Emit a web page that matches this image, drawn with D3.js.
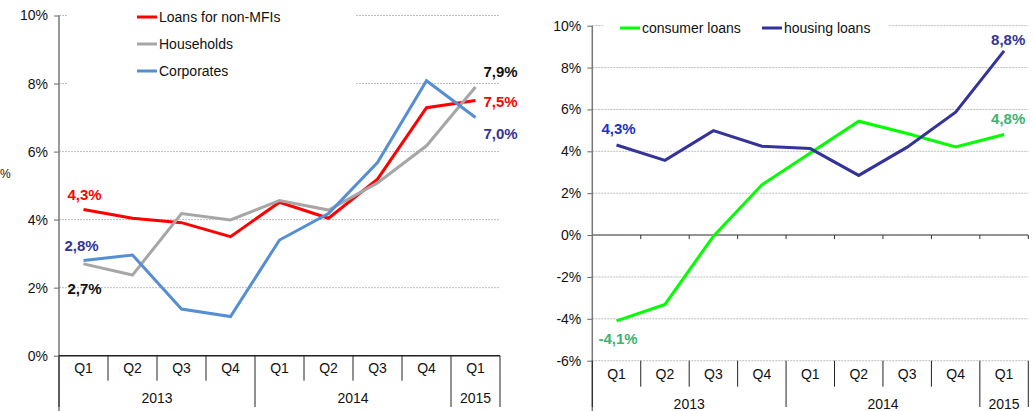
<html>
<head>
<meta charset="utf-8">
<title>Loans growth</title>
<script src="https://cdn.jsdelivr.net/npm/d3@7"></script>
<style>
  body { margin: 0; background: #fff; }
  text { font-family: "Liberation Sans", Arial, sans-serif; }
</style>
</head>
<body>
<script>
    var quarters = ["Q1", "Q2", "Q3", "Q4", "Q1", "Q2", "Q3", "Q4", "Q1"];
    var years = ["2013", "2014", "2015"];
    var yearCounts = [4, 4, 1];

    // left panel
    var loansNonMFI = [4.3, 4.04, 3.91, 3.5, 4.51, 4.04, 5.19, 7.29, 7.5];
    var households = [2.7, 2.37, 4.18, 3.99, 4.56, 4.28, 5.08, 6.17, 7.9];
    var corporates = [2.8, 2.96, 1.37, 1.15, 3.4, 4.18, 5.68, 8.08, 7.0];
    var leftTicks = [0, 2, 4, 6, 8, 10];

    // right panel
    var consumerLoans = [-4.1, -3.31, -0.05, 2.4, 3.92, 5.44, 4.85, 4.21, 4.8];
    var housingLoans = [4.3, 3.57, 4.99, 4.24, 4.13, 2.85, 4.2, 5.87, 8.8];
    var rightTicks = [-6, -4, -2, 0, 2, 4, 6, 8, 10];

    var width = 1034, height = 411;
    var svg = d3.select("body").append("svg")
        .attr("width", width)
        .attr("height", height);

    var idx = d3.range(quarters.length);
    var f1 = d3.format(".1f");
    function fmt(v) { return f1(v).replace("\u2212", "-").replace(".", ",") + "%"; }

    function panel(opt)
    {
        var g = svg.append("g");
        var x = d3.scaleBand().domain(idx).range([opt.x0, opt.x1]).padding(0);
        var y = d3.scaleLinear().domain(opt.domain).range([opt.yBottom, opt.yTop]);

        // gridlines
        g.selectAll(".grid").data(opt.ticks).enter().append("line")
            .attr("x1", opt.x0).attr("x2", opt.x1)
            .attr("y1", function(d){ return y(d); })
            .attr("y2", function(d){ return y(d); })
            .attr("stroke", "#bdbdbd")
            .attr("stroke-width", 1)
            .attr("stroke-dasharray", "2,1");

        // legend background
        g.append("rect")
            .attr("x", opt.legendBox[0]).attr("y", opt.legendBox[1])
            .attr("width", opt.legendBox[2]).attr("height", opt.legendBox[3])
            .attr("fill", "#fff");

        // y axis
        var yAxis = d3.axisLeft(y).tickValues(opt.ticks)
            .tickSize(5).tickPadding(6)
            .tickFormat(function(d){ return d + "%"; });
        var ya = g.append("g").attr("transform", "translate(" + opt.x0 + ",0)").call(yAxis);
        ya.select(".domain").remove();
        ya.selectAll("line").attr("stroke", "#666");
        ya.selectAll("text").attr("font-size", "14px").attr("fill", "#111")
            .style("font-family", "'Liberation Sans', Arial, sans-serif");
        g.append("line")
            .attr("x1", opt.x0).attr("x2", opt.x0)
            .attr("y1", opt.yTop).attr("y2", height)
            .attr("stroke", "#777").attr("stroke-width", 1.5);

        // zero line
        g.append("line")
            .attr("x1", opt.x0).attr("x2", opt.x1)
            .attr("y1", y(0)).attr("y2", y(0))
            .attr("stroke", opt.zeroColor).attr("stroke-width", 1.5);
        if (opt.zeroTicks) {
            g.selectAll(".zt").data(d3.range(1, quarters.length + 1)).enter().append("line")
                .attr("x1", function(d){ return opt.x0 + d * x.bandwidth(); })
                .attr("x2", function(d){ return opt.x0 + d * x.bandwidth(); })
                .attr("y1", y(0)).attr("y2", y(0) + 4)
                .attr("stroke", "#333");
        }

        // category separators
        var base = y(opt.domain[0]);
        var yearStarts = [0];
        yearCounts.reduce(function(a, c){ yearStarts.push(a + c); return a + c; }, 0);
        g.selectAll(".sep").data(d3.range(0, quarters.length + 1)).enter().append("line")
            .attr("x1", function(d){ return opt.x0 + d * x.bandwidth(); })
            .attr("x2", function(d){ return opt.x0 + d * x.bandwidth(); })
            .attr("y1", base)
            .attr("y2", function(d){ return yearStarts.indexOf(d) >= 0 ? height - 4 : base + opt.qDrop; })
            .attr("stroke", "#222").attr("stroke-width", 1);

        g.selectAll(".q").data(quarters).enter().append("text")
            .attr("x", function(d, i){ return x(i) + x.bandwidth() / 2; })
            .attr("y", base + opt.qDrop / 2 + 5)
            .attr("text-anchor", "middle")
            .attr("font-size", "14px").attr("fill", "#111")
            .text(function(d){ return d; });

        g.selectAll(".yr").data(years).enter().append("text")
            .attr("x", function(d, i){
                return opt.x0 + (yearStarts[i] + yearCounts[i] / 2) * x.bandwidth();
            })
            .attr("y", opt.yearY)
            .attr("text-anchor", "middle")
            .attr("font-size", "14px").attr("fill", "#111")
            .text(function(d){ return d; });

        // series
        var line = d3.line()
            .x(function(d, i){ return x(i) + x.bandwidth() / 2; })
            .y(function(d){ return y(d); });
        opt.series.forEach(function(s){
            g.append("path").datum(s.values)
                .attr("d", line)
                .attr("fill", "none")
                .attr("stroke", s.color)
                .attr("stroke-width", 3)
                .attr("stroke-linejoin", "miter");
        });

        // legend
        opt.legend.forEach(function(l){
            g.append("line")
                .attr("x1", l.x).attr("x2", l.x + 20)
                .attr("y1", l.y).attr("y2", l.y)
                .attr("stroke", l.color).attr("stroke-width", 3);
            g.append("text")
                .attr("x", l.x + 22).attr("y", l.y + 5)
                .attr("font-size", "14px").attr("fill", "#111")
                .text(l.name);
        });

        // value labels
        opt.labels.forEach(function(l){
            var s = opt.series[l.s];
            var i = l.end ? quarters.length - 1 : 0;
            g.append("text")
                .attr("x", x(i) + x.bandwidth() / 2 + l.dx)
                .attr("y", y(s.values[i]) + l.dy)
                .attr("font-size", "15px").attr("font-weight", "bold")
                .attr("fill", l.color)
                .text(fmt(s.values[i]));
        });
        return g;
    }

    panel({
        x0: 59, x1: 500, yTop: 15.5, yBottom: 355.7, domain: [0, 10],
        ticks: leftTicks, zeroColor: "#222", zeroTicks: false,
        qDrop: 25, yearY: 403,
        legendBox: [67, 0, 288, 92],
        series: [
            {values: loansNonMFI, color: "#ff0000"},
            {values: households, color: "#a6a6a6"},
            {values: corporates, color: "#558ed5"}
        ],
        legend: [
            {name: "Loans for non-MFIs", color: "#ff0000", x: 137, y: 17},
            {name: "Households", color: "#a6a6a6", x: 137, y: 44},
            {name: "Corporates", color: "#558ed5", x: 137, y: 71}
        ],
        labels: [
            {s: 0, end: false, dx: -16, dy: -9, color: "#ff0000"},
            {s: 2, end: false, dx: -19, dy: -9, color: "#333399"},
            {s: 1, end: false, dx: -16, dy: 30, color: "#111"},
            {s: 1, end: true, dx: 8, dy: -10, color: "#111"},
            {s: 0, end: true, dx: 8, dy: 6, color: "#ff0000"},
            {s: 2, end: true, dx: 8, dy: 21, color: "#333399"}
        ]
    });

    panel({
        x0: 592.3, x1: 1028.3, yTop: 25.7, yBottom: 360.7, domain: [-6, 10],
        ticks: rightTicks, zeroColor: "#777", zeroTicks: true,
        qDrop: 26, yearY: 409,
        legendBox: [603, 10, 286, 30],
        series: [
            {values: consumerLoans, color: "#00ff00"},
            {values: housingLoans, color: "#333399"}
        ],
        legend: [
            {name: "consumer loans", color: "#00ff00", x: 620, y: 28},
            {name: "housing loans", color: "#333399", x: 762, y: 28}
        ],
        labels: [
            {s: 1, end: false, dx: -15, dy: -11, color: "#2233bb"},
            {s: 1, end: true, dx: -13, dy: -6, color: "#333399"},
            {s: 0, end: true, dx: -13, dy: -11, color: "#3cb371"},
            {s: 0, end: false, dx: -18, dy: 23, color: "#3cb371"}
        ]
    });

    // axis title, mostly outside the frame in the original
    svg.append("text")
        .attr("x", 0).attr("y", 178)
        .attr("font-size", "12px").attr("fill", "#111")
        .text("%");
</script>
</body>
</html>
